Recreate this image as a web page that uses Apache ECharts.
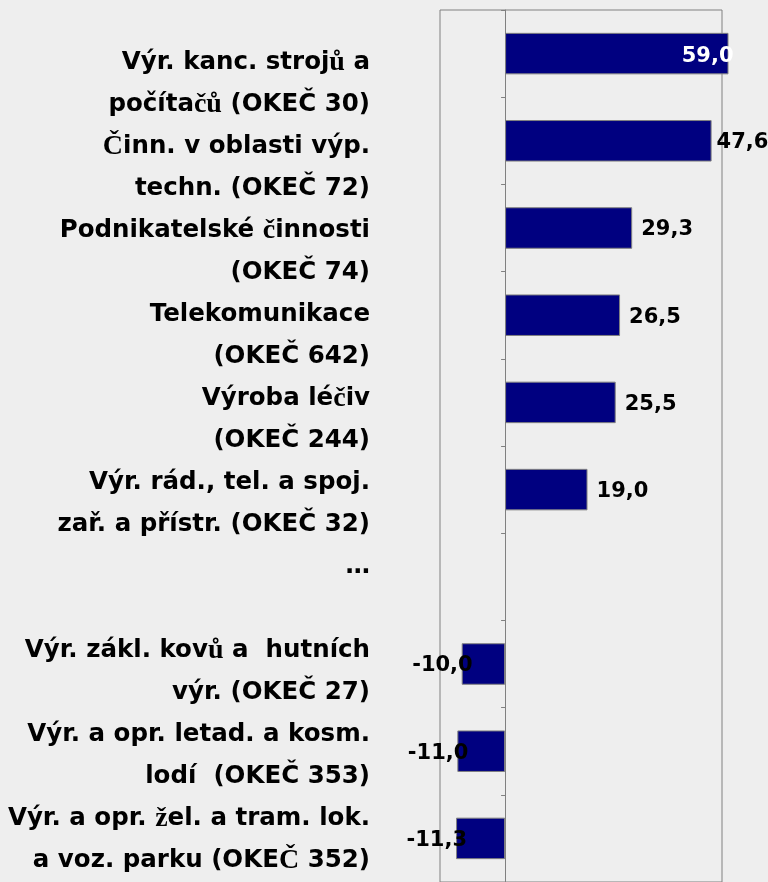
<!DOCTYPE html>
<html>
<head>
<meta charset="utf-8">
<script src="https://cdn.jsdelivr.net/npm/echarts@6/dist/echarts.min.js"></script>
<style>
  html, body { margin: 0; padding: 0; background: #eeeeee; }
  #chart { width: 768px; height: 882px; }
</style>
</head>
<body>
<div id="chart"></div>
<script>
// ---- data ----
const categories = [
  'Výr. kanc. strojů a\npočítačů (OKEČ 30)',
  'Činn. v oblasti výp.\ntechn. (OKEČ 72)',
  'Podnikatelské činnosti\n(OKEČ 74)',
  'Telekomunikace\n(OKEČ 642)',
  'Výroba léčiv\n(OKEČ 244)',
  'Výr. rád., tel. a spoj.\nzař. a přístr. (OKEČ 32)',
  '…\n ',
  'Výr. zákl. kovů a  hutních\nvýr. (OKEČ 27)',
  'Výr. a opr. letad. a kosm.\nlodí  (OKEČ 353)',
  'Výr. a opr. žel. a tram. lok.\na voz. parku (OKEČ 352)'
];
const values = [59.0, 47.6, 29.3, 26.5, 25.5, 19.0, null, -10.0, -11.0, -11.3];
const axisMin = -15;
const frameMax = 50;
const axisMax = 51.38;

// characters that appear in a serif face in the original
const serifParts = [
  ['strojů', 'stroj{s|ů}'],
  ['počítačů', 'počíta{s|čů}'],
  ['Činn', '{s|Č}inn'],
  ['činnosti', '{s|č}innosti'],
  ['léčiv', 'lé{s|č}iv'],
  ['kovů', 'kov{s|ů}'],
  ['žel.', '{s|ž}el.'],
  ['(OKEČ 352)', '(OKE{s|Č} 352)']
];

function markup(label) {
  let out = label;
  serifParts.forEach(function (p) { out = out.split(p[0]).join(p[1]); });
  return out;
}

const barData = values.map(function (v) {
  if (v === null) return '-';
  if (v > axisMax) {
    return { value: v, label: { position: 'insideRight', color: '#ffffff', offset: [14, 3] } };
  }
  if (v > 45) {
    return { value: v, label: { position: 'right', distance: 5 } };
  }
  if (v < 0) {
    return { value: v, label: { position: 'left', distance: -11 } };
  }
  return v;
});

const chart = echarts.init(document.getElementById('chart'), null, { renderer: 'canvas' });

const option = {
  backgroundColor: '#eeeeee',
  animation: false,
  grid: [
    { left: 440, top: 10, width: 288, height: 876, containLabel: false },
    { left: 380, top: 41.5, width: 10, height: 849, containLabel: false }
  ],
  xAxis: [
    { type: 'value', gridIndex: 0, min: axisMin, max: axisMax, show: false },
    { type: 'value', gridIndex: 1, min: 0, max: 1, show: false }
  ],
  yAxis: [
    {
      type: 'category', gridIndex: 0, inverse: true, data: categories,
      axisLine: { show: true, onZero: true, lineStyle: { color: '#808080', width: 1 } },
      axisTick: { show: true, length: 4, inside: false, lineStyle: { color: '#808080' } },
      axisLabel: { show: false },
      splitLine: { show: false }
    },
    {
      type: 'category', gridIndex: 1, inverse: true, data: categories,
      axisLine: { show: false },
      axisTick: { show: false },
      splitLine: { show: false },
      axisLabel: {
        show: true,
        interval: 0,
        showMinLabel: true,
        showMaxLabel: true,
        hideOverlap: false,
        margin: 10,
        align: 'right',
        color: '#000000',
        fontFamily: 'DejaVu Sans',
        fontWeight: 'bold',
        fontSize: 24.5,
        lineHeight: 42.3,
        formatter: function (v) { return markup(v); },
        rich: {
          s: {
            fontFamily: 'Liberation Serif',
            fontWeight: 'bold',
            fontSize: 28,
            lineHeight: 42.3,
            color: '#000000'
          }
        }
      }
    }
  ],
  series: [
    {
      type: 'bar',
      xAxisIndex: 0,
      yAxisIndex: 0,
      data: barData,
      barWidth: '47.6%',
      itemStyle: { color: '#000080', borderColor: '#808080', borderWidth: 1 },
      label: {
        show: true,
        position: 'right',
        distance: 9,
        color: '#000000',
        fontFamily: 'DejaVu Sans',
        fontWeight: 'bold',
        fontSize: 21,
        offset: [0, 2],
        formatter: function (p) { return p.value.toFixed(1).replace('.', ','); }
      },
      markArea: {
        silent: true,
        itemStyle: { color: 'rgba(0,0,0,0)', borderColor: '#808080', borderWidth: 1 },
        label: { show: false },
        data: [[{ xAxis: axisMin }, { xAxis: frameMax }]]
      },
      z: 3
    }
  ]
};

chart.setOption(option);
</script>
</body>
</html>
